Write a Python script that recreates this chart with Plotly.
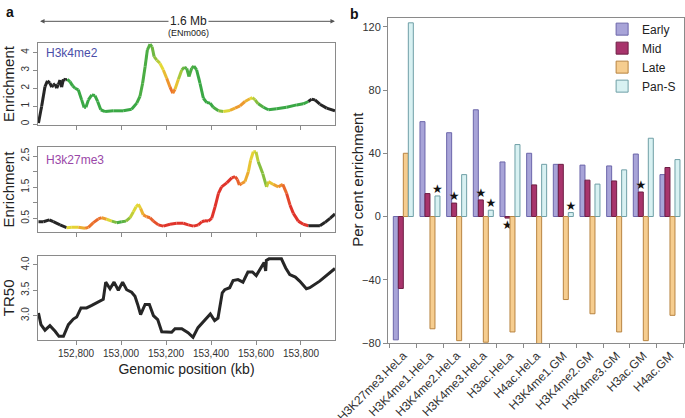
import plotly.graph_objects as go
from plotly.colors import sample_colorscale

# ---------------- Panel a data ----------------
# H3k4me2 enrichment track: position (kb), enrichment, colour score (None = black)
h3k4_pos = [152633, 152647, 152662, 152673, 152684, 152692, 152699, 152707, 152714, 152721,
            152729, 152736, 152744, 152754, 152761, 152773, 152785, 152796, 152810, 152825,
            152836, 152844, 152855, 152870, 152884, 152896, 152910, 152929, 152966, 153010,
            153047, 153070, 153084, 153096, 153107, 153117, 153129, 153138, 153147, 153159,
            153173, 153188, 153203, 153218, 153230, 153240, 153255, 153270, 153281, 153292,
            153302, 153314, 153324, 153336, 153351, 153366, 153381, 153396, 153410, 153433,
            153455, 153484, 153507, 153529, 153551, 153573, 153584, 153596, 153610, 153633,
            153655, 153692, 153736, 153781, 153810, 153833, 153847, 153862, 153884, 153914,
            153951]
h3k4_val = [0.06, 0.98, 2.09, 2.41, 2.28, 2.06, 2.19, 2.24, 2.00, 2.19,
            2.46, 2.06, 2.50, 2.46, 2.50, 2.37, 2.13, 2.00, 1.91, 1.35,
            0.93, 0.94, 1.35, 1.63, 1.59, 1.26, 0.80, 0.70, 0.74, 0.74,
            0.83, 1.17, 1.54, 2.28, 3.20, 4.13, 4.46, 4.31, 3.76, 3.57,
            3.39, 3.02, 2.56, 2.06, 1.72, 1.94, 2.50, 3.02, 3.17, 3.11,
            2.65, 3.11, 3.24, 3.02, 2.28, 1.44, 1.20, 1.17, 0.94, 0.74,
            0.70, 0.76, 0.89, 1.02, 1.26, 1.41, 1.48, 1.35, 1.13, 0.94,
            0.80, 0.85, 0.94, 1.07, 1.13, 1.26, 1.39, 1.35, 1.11, 0.89,
            0.74]
h3k4_score = [None] * 15 + [0, 0, 0, 0, 0,
              0, 0, 0, 0, 0, 0, 0, 0, 0, 0,
              0, 0, 0.05, 0.05, 0.05, 0.05, 0.1, 0.1, 0.2, 0.3,
              0.45, 0.55, 0.65, 0.8, 0.85, 0.7, 0.45, 0.2, 0.1, 0.05,
              0.05, 0.05, 0.05, 0, 0, 0, 0, 0, 0, 0.1,
              0.35, 0.6, 0.7, 0.72, 0.7, 0.55, 0.45, 0.3, 0.15, 0,
              0, 0, 0, 0, 0] + [None] * 6

# H3k27me3 enrichment track
h3k27_pos = [152633, 152655, 152681, 152699, 152729, 152758, 152781, 152810, 152840, 152855,
             152877, 152899, 152914, 152936, 152959, 152981, 153003, 153022, 153040, 153055,
             153067, 153077, 153087, 153099, 153114, 153129, 153144, 153166, 153188, 153218,
             153247, 153277, 153299, 153322, 153344, 153359, 153373, 153388, 153403, 153418,
             153433, 153447, 153470, 153492, 153507, 153517, 153526, 153536, 153551, 153566,
             153576, 153588, 153600, 153610, 153630, 153647, 153655, 153677, 153699, 153719,
             153736, 153751, 153766, 153788, 153810, 153833, 153884, 153907, 153929, 153951]
h3k27_val = [0.39, 0.39, 0.45, 0.39, 0.29, 0.20, 0.21, 0.21, 0.18, 0.21,
             0.36, 0.48, 0.52, 0.47, 0.41, 0.36, 0.39, 0.41, 0.52, 0.71,
             0.87, 0.95, 0.82, 0.61, 0.55, 0.52, 0.41, 0.29, 0.25, 0.31,
             0.34, 0.34, 0.29, 0.25, 0.29, 0.39, 0.42, 0.41, 0.50, 0.87,
             1.30, 1.51, 1.64, 1.80, 1.84, 1.75, 1.57, 1.62, 1.68, 2.00,
             2.37, 2.64, 2.64, 2.32, 1.94, 1.51, 1.68, 1.59, 1.51, 1.59,
             1.30, 0.93, 0.66, 0.41, 0.31, 0.26, 0.26, 0.37, 0.50, 0.64]
h3k27_score = [None] * 6 + [0.5, 0.55, 0.75, 0.8,
               0.85, 0.85, 0.8, 0.6, 0.35, 0.05, 0.05, 0.15, 0.35, 0.45,
               0.5, 0.5, 0.55, 0.7, 0.8, 0.85, 0.9, 0.95, 1, 1,
               1, 1, 1, 1, 1, 1, 1, 1, 1, 1,
               1, 1, 1, 1, 0.95, 0.9, 0.85, 0.75, 0.7, 0.6,
               0.55, 0.5, 0.45, 0.3, 0.15, 0.3, 0.5, 0.65, 0.7, 0.8,
               0.9, 1, 1, 1, 1] + [None] * 5

# TR50 track
tr50_pos = [152633, 152644, 152662, 152684, 152707, 152724, 152744, 152766, 152788, 152803,
            152822, 152847, 152870, 152892, 152914, 152921, 152932, 152951, 152969, 152988,
            153007, 153025, 153047, 153062, 153074, 153087, 153107, 153126, 153144, 153163,
            153181, 153225, 153240, 153270, 153298, 153320, 153342, 153364, 153397, 153416,
            153431, 153450, 153461, 153483, 153498, 153520, 153542, 153564, 153584, 153601,
            153619, 153636, 153643, 153646, 153658, 153713, 153732, 153750, 153775, 153794,
            153824, 153839, 153883, 153927, 153951]
tr50_val = [3.05, 2.82, 2.71, 2.80, 2.69, 2.59, 2.59, 2.82, 2.93, 2.97,
            3.15, 3.15, 3.20, 3.25, 3.30, 3.32, 3.66, 3.53, 3.66, 3.50,
            3.66, 3.51, 3.46, 3.38, 3.22, 3.02, 3.22, 3.22, 3.00, 2.92,
            2.68, 2.67, 2.74, 2.74, 2.66, 2.57, 2.76, 2.86, 3.03, 2.90,
            2.95, 3.45, 3.51, 3.55, 3.69, 3.71, 3.66, 3.86, 3.86, 3.79,
            3.91, 4.05, 3.88, 4.09, 4.12, 4.12, 3.94, 3.81, 3.76, 3.68,
            3.53, 3.55, 3.68, 3.84, 3.93]

pos_ticks = [152800, 153000, 153200, 153400, 153600, 153800]

# ---------------- Panel b data ----------------
marks = ["H3K27me3.HeLa", "H3K4me1.HeLa", "H3K4me2.HeLa", "H3K4me3.HeLa", "H3ac.HeLa",
         "H4ac.HeLa", "H3K4me1.GM", "H3K4me2.GM", "H3K4me3.GM", "H3ac.GM", "H4ac.GM"]
early = [-78, 60, 53, 67.5, 34.5, 40, 33, 32.5, 32, 39.5, 26.5]
mid = [-45.5, 14.5, 8.5, 10.5, -1, 20, 33, 23, 22.5, 15.5, 31]
late = [40, -71, -78.5, -79.5, -73, -82, -52.5, -61.5, -73, -78.5, -62.5]
pan_s = [122.5, 13, 26.5, 4, 45.5, 33, 2.5, 20.5, 29.5, 49.5, 36]
mid_star = ["H3K4me2.HeLa", "H3K4me3.HeLa", "H3ac.HeLa", "H3ac.GM"]
pan_s_star = ["H3K4me1.HeLa", "H3K4me3.HeLa", "H3K4me1.GM"]
late_star = []
early_star = []

FONT = "Liberation Sans, Arial, Helvetica, sans-serif"
CSCALE = [[0, "#3aa845"], [0.5, "#e4d936"], [0.75, "#ef8e2c"], [1, "#e0342b"]]
BLACK = "#262626"
AX = "#8a8a8a"

fig = go.Figure()


def add_track(pos, val, score, xa, ya):
    for i in range(len(pos) - 1):
        s0, s1 = score[i], score[i + 1]
        if s0 is None and s1 is None:
            col = BLACK
        else:
            vals = [s for s in (s0, s1) if s is not None]
            col = sample_colorscale(CSCALE, [sum(vals) / len(vals)])[0]
        fig.add_trace(go.Scatter(x=pos[i:i + 2], y=val[i:i + 2], mode="lines",
                                 line=dict(color=col, width=3), xaxis=xa, yaxis=ya,
                                 showlegend=False, hoverinfo="skip"))


add_track(h3k4_pos, h3k4_val, h3k4_score, "x", "y")
add_track(h3k27_pos, h3k27_val, h3k27_score, "x2", "y2")
fig.add_trace(go.Scatter(x=tr50_pos, y=tr50_val, mode="lines", line=dict(color=BLACK, width=3),
                         xaxis="x3", yaxis="y3", showlegend=False))

series = [("Early", early, early_star, "#a8a4d8", "#6c66aa"),
          ("Mid", mid, mid_star, "#a8346c", "#6e1e44"),
          ("Late", late, late_star, "#f6cd8f", "#b88442"),
          ("Pan-S", pan_s, pan_s_star, "#d8f1f2", "#6f9fa6")]
for name, vals, stars, fill, edge in series:
    fig.add_trace(go.Bar(x=marks, y=vals, name=name, xaxis="x4", yaxis="y4",
                         marker=dict(color=fill, line=dict(color=edge, width=1)),
                         text=["★" if m in stars else "" for m in marks],
                         textposition="outside", textangle=0, cliponaxis=False,
                         constraintext="none",
                         textfont=dict(size=12, color="#111", family="DejaVu Sans")))

xa_common = dict(range=[152631, 153951], tickvals=pos_ticks, ticks="outside", ticklen=4,
                 tickcolor=AX, showline=True, linecolor=AX, mirror=True, showgrid=False,
                 zeroline=False, tickfont=dict(size=10, color="#333"), automargin=False)
ya_common = dict(ticks="outside", ticklen=4, tickcolor=AX, showline=True, linecolor=AX,
                 mirror=True, showgrid=False, zeroline=False, tickangle=-90, automargin=False,
                 tickfont=dict(size=10, color="#333"), title_font=dict(size=15, color="#222"),
                 title_standoff=6)

fig.update_layout(
    width=685, height=418, margin=dict(l=0, r=0, t=0, b=0, autoexpand=False),
    paper_bgcolor="white", plot_bgcolor="white", font=dict(family=FONT, color="#222"),
    barmode="group", bargap=0.25, bargroupgap=0,
    xaxis=dict(domain=[0.0555, 0.489], anchor="y", showticklabels=False, **xa_common),
    xaxis2=dict(domain=[0.0555, 0.489], anchor="y2", showticklabels=False, **xa_common),
    xaxis3=dict(domain=[0.0555, 0.489], anchor="y3", tickformat=",d",
                title=dict(text="Genomic position (kb)", font=dict(size=14, color="#222"), standoff=6),
                **xa_common),
    yaxis=dict(domain=[0.701, 0.897], anchor="x", range=[-0.05, 4.52], tickvals=[0, 1, 2, 3, 4],
               title_text="Enrichment", **ya_common),
    yaxis2=dict(domain=[0.445, 0.648], anchor="x2", range=[0.06, 2.79],
                tickvals=[0.5, 1, 1.5, 2, 2.5], ticktext=["0.5", "", "1.5", "", "2.5"],
                title_text="Enrichment", **ya_common),
    yaxis3=dict(domain=[0.187, 0.388], anchor="x3", range=[2.52, 4.18],
                tickvals=[3.0, 3.5, 4.0], ticktext=["3.0", "3.5", "4.0"],
                title_text="TR50", **ya_common),
    xaxis4=dict(domain=[0.5664, 0.9985], anchor="y4", type="category", range=[-0.575, 10.525],
                tickson="boundaries", ticks="outside", ticklen=4, tickcolor=AX, tickangle=-45,
                showline=True, linecolor=AX, mirror=True, showgrid=False, automargin=False,
                tickfont=dict(size=12, color="#333")),
    xaxis5=dict(overlaying="x4", anchor="free", position=0.4833, range=[-0.575, 10.525],
                tickvals=[i + 0.5 for i in range(len(marks) - 1)], ticks="outside", ticklen=4,
                tickcolor=AX, showticklabels=False, showline=False, showgrid=False, zeroline=False,
                automargin=False),
    yaxis4=dict(domain=[0.1794, 0.956], anchor="x4", range=[-80, 125.3], tickvals=[-80, -40, 0, 40, 80, 120],
                ticks="outside", ticklen=4, tickcolor=AX, showline=True, linecolor=AX, mirror=True,
                showgrid=False, zeroline=False, tickfont=dict(size=11, color="#333"), automargin=False),
    legend=dict(x=0.879, y=0.965, xanchor="left", yanchor="top", bgcolor="rgba(0,0,0,0)",
                font=dict(size=12, color="#222"), itemwidth=30, tracegroupgap=0),
)

# Bar panel y-axis title
fig.add_annotation(x=358 / 685, y=0.57, xref="paper", yref="paper", text="Per cent enrichment",
                   textangle=-90, showarrow=False, xanchor="center", yanchor="middle",
                   font=dict(size=15, color="#222"))
# Scale bar above panel a
for head in (152640, 153951):
    fig.add_annotation(x=head, y=0.949, xref="x", yref="paper", axref="x", ayref="pixel",
                       ax=153300, ay=0, showarrow=True, arrowhead=2, arrowsize=0.9,
                       arrowwidth=1, arrowcolor="#555", text="")
fig.add_annotation(x=153300, y=0.949, xref="x", yref="paper", text="1.6 Mb", showarrow=False,
                   yanchor="middle", bgcolor="white", font=dict(size=12, color="#222"))
fig.add_annotation(x=153300, y=0.921, xref="x", yref="paper", text="(ENm006)", showarrow=False,
                   yanchor="middle", font=dict(size=9, color="#222"))
# Track labels
fig.add_annotation(x=0.064, y=0.873, xref="paper", yref="paper", text="H3k4me2", showarrow=False,
                   xanchor="left", yanchor="middle", font=dict(size=12, color="#4a4ea8"))
fig.add_annotation(x=0.064, y=0.617, xref="paper", yref="paper", text="H3k27me3", showarrow=False,
                   xanchor="left", yanchor="middle", font=dict(size=12, color="#9a48a8"))
# Panel letters
fig.add_annotation(x=0.006, y=0.995, xref="paper", yref="paper", text="<b>a</b>", showarrow=False,
                   xanchor="left", yanchor="top", font=dict(size=14, color="#111"))
fig.add_annotation(x=0.508, y=0.99, xref="paper", yref="paper", text="<b>b</b>", showarrow=False,
                   xanchor="left", yanchor="top", font=dict(size=14, color="#111"))

fig.write_html("out.html", post_script="document.body.style.margin='0';",
               config={"displayModeBar": False})
